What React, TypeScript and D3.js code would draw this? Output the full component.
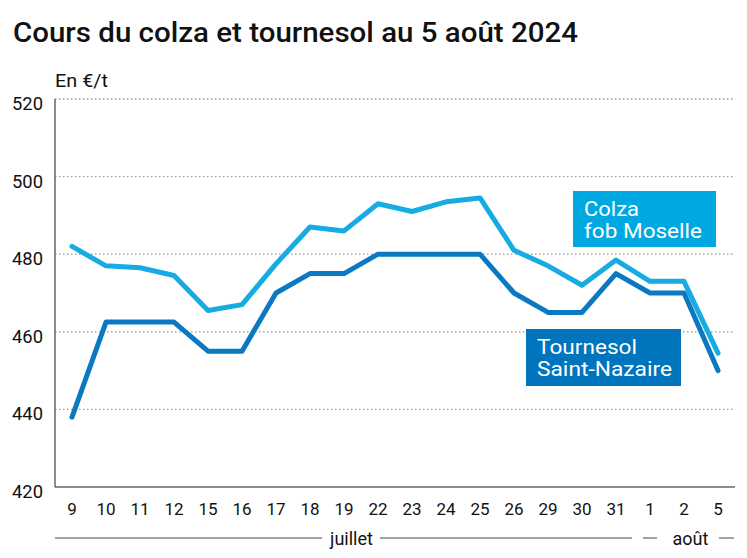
import React from "react";
import * as d3 from "d3";

const days = ["9","10","11","12","15","16","17","18","19","22","23","24","25","26","29","30","31","1","2","5"];
const colza = [482,477,476.5,474.5,465.5,467,477.5,487,486,493,491,493.5,494.5,481,477,472,478.5,473,473,454.5];
const tournesol = [438,462.5,462.5,462.5,455,455,470,475,475,480,480,480,480,470,465,465,475,470,470,450];
const yTicks = [420,440,460,480,500,520];

const W = 747, H = 558;
const left = 55, right = 735, top = 99, bottom = 487;
const font = "Roboto, 'Noto Sans', sans-serif";

export default function App() {
  const x = d3.scaleBand<string>().domain(days).range([left, left + 34 * days.length]);
  const y = d3.scaleLinear().domain([420, 520]).range([bottom, top]);
  const cx = (d: string) => (x(d) as number) + x.bandwidth() / 2;
  const line = d3.line<number>().x((_, i) => cx(days[i])).y((v) => y(v));
  return (
    <svg width={W} height={H} style={{ position: "absolute", left: 0, top: 0, background: "#fff" }}>
      <text x={13} y={42} fontFamily={font} fontWeight={500} fontSize={28} fill="#111" textLength={565} lengthAdjust="spacingAndGlyphs">Cours du colza et tournesol au 5 août 2024</text>
      <text x={55} y={87} fontFamily={font} fontSize={18} fill="#111" textLength={53} lengthAdjust="spacingAndGlyphs">En €/t</text>
      {yTicks.map((t) => (
        <g key={t}>
          {t !== 420 && <line x1={left} x2={right} y1={y(t)} y2={y(t)} stroke="#999" strokeWidth={1.3} strokeDasharray="1.5 2.5" />}
          <text x={43} y={y(t) + 11} textAnchor="end" fontFamily={font} fontSize={17.5} fill="#111" textLength={31} lengthAdjust="spacingAndGlyphs">{t}</text>
        </g>
      ))}
      <line x1={left} x2={left} y1={top} y2={bottom} stroke="#666" strokeWidth={1.5} />
      <line x1={left} x2={right} y1={bottom} y2={bottom} stroke="#666" strokeWidth={1.5} />
      {days.map((d) => (
        <text key={d} x={cx(d)} y={515} textAnchor="middle" fontFamily={font} fontSize={17} fill="#111">{d}</text>
      ))}
      <line x1={left} x2={322} y1={538} y2={538} stroke="#444" strokeWidth={1} />
      <text x={351.5} y={545} textAnchor="middle" fontFamily={font} fontSize={18} fill="#111">juillet</text>
      <line x1={380} x2={632} y1={538} y2={538} stroke="#444" strokeWidth={1} />
      <line x1={643} x2={657} y1={538} y2={538} stroke="#444" strokeWidth={1} />
      <text x={690.5} y={545} textAnchor="middle" fontFamily={font} fontSize={18} fill="#111">août</text>
      <line x1={719} x2={734} y1={538} y2={538} stroke="#444" strokeWidth={1} />
      <path d={line(colza) || ""} fill="none" stroke="#17abe3" strokeWidth={5} strokeLinejoin="round" strokeLinecap="round" />
      <path d={line(tournesol) || ""} fill="none" stroke="#0a79c1" strokeWidth={5} strokeLinejoin="round" strokeLinecap="round" />
      <rect x={573} y={191} width={143} height={56} fill="#00a8e1" />
      <text x={584} y={216} fontFamily={font} fontSize={20} fill="#fff" textLength={55} lengthAdjust="spacingAndGlyphs">Colza</text>
      <text x={584} y={238} fontFamily={font} fontSize={20} fill="#fff" textLength={118} lengthAdjust="spacingAndGlyphs">fob Moselle</text>
      <rect x={526} y={329} width={155} height={57} fill="#0075bd" />
      <text x={537} y={354} fontFamily={font} fontSize={20} fill="#fff" textLength={100} lengthAdjust="spacingAndGlyphs">Tournesol</text>
      <text x={537} y={376} fontFamily={font} fontSize={20} fill="#fff" textLength={135} lengthAdjust="spacingAndGlyphs">Saint-Nazaire</text>
    </svg>
  );
}
